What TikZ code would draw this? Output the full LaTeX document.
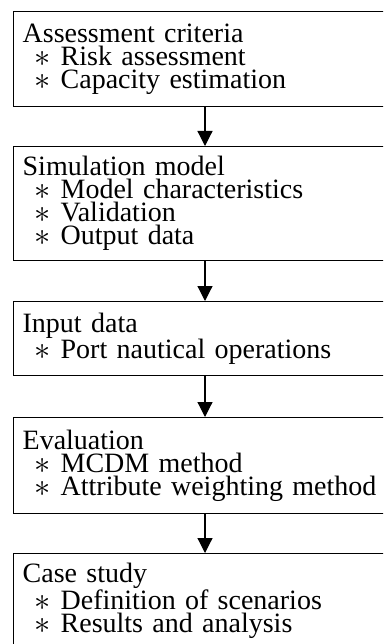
\documentclass[tikz,border=0pt]{standalone}
\usepackage{fontspec}
\usepackage{graphicx}
\setmainfont{Liberation Serif}
\usetikzlibrary{arrows.meta}
% enlarged star bullet and one bulleted sub-item inside a stage box
\newcommand{\bstar}{\makebox[10pt][c]{\raisebox{-1pt}{\scalebox{1.3}{$\ast$}}}}
\newcommand{\bitem}[1]{\\\hspace*{15pt}\bstar\hspace{13pt}#1}
\tikzset{
  stagebox/.style={draw, line width=1.3pt, rectangle, anchor=north west,
    minimum width=390pt, text width=372pt, inner xsep=9pt, inner ysep=0pt,
    align=left, font=\fontsize{28}{23}\selectfont},
  flowarrow/.style={-{Triangle[width=15pt,length=15pt]}, line width=1.2pt},
}
\begin{document}
\begin{tikzpicture}[x=1pt,y=-1pt]
\useasboundingbox (0,0) rectangle (383,644);
\clip (0,0) rectangle (383,644);
\node[stagebox, minimum height=95pt] (crit) at (13,11)
  {Assessment criteria\bitem{Risk assessment}\bitem{Capacity estimation}};
\node[stagebox, minimum height=114pt] (sim) at (13,146)
  {Simulation model\bitem{Model characteristics}\bitem{Validation}\bitem{Output data}};
\node[stagebox, minimum height=74pt] (input) at (13,301)
  {Input data\bitem{Port nautical operations}};
\node[stagebox, minimum height=96pt] (eval) at (13,417)
  {Evaluation\bitem{MCDM method}\bitem{Attribute weighting method}};
\node[stagebox, minimum height=95pt] (case) at (13,553)
  {Case study\bitem{Definition of scenarios}\bitem{Results and analysis}};
\foreach \a/\b in {crit/sim, sim/input, input/eval, eval/case}
  \draw[flowarrow] ([xshift=192pt]\a.south west) -- ([xshift=192pt]\b.north west);
\end{tikzpicture}
\end{document}
